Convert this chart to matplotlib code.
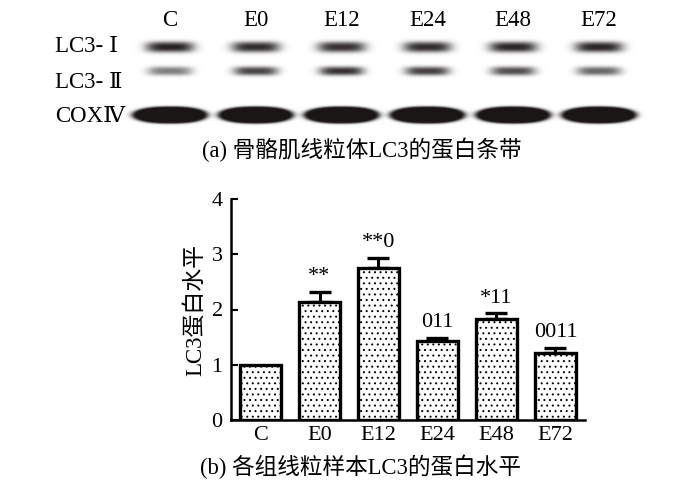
import numpy as np
import matplotlib
matplotlib.use('Agg')
import matplotlib.pyplot as plt
from matplotlib.colors import LinearSegmentedColormap

# ---------------- data ----------------
groups = ['C', 'E0', 'E12', 'E24', 'E48', 'E72']
lc3_level = [1.00, 2.14, 2.76, 1.43, 1.83, 1.22]
lc3_err = [0.00, 0.18, 0.18, 0.06, 0.10, 0.09]
sig_labels = ['', '**', '**0', '011', '*11', '0011']
band_rows = ['LC3- Ⅰ', 'LC3- Ⅱ', 'COXⅣ']
band_lc3_1 = [0.95, 0.90, 0.88, 0.90, 0.93, 0.93]
band_lc3_2 = [0.55, 0.80, 0.88, 0.82, 0.76, 0.65]
band_cox = [1.00, 1.00, 1.00, 1.00, 1.00, 1.00]
caption_a = '(a) 骨骼肌线粒体LC3的蛋白条带'
caption_b = '(b) 各组线粒样本LC3的蛋白水平'
ylabel = 'LC3蛋白水平'

plt.rcParams['font.family'] = ['Liberation Serif', 'DejaVu Serif', 'Noto Sans CJK SC']
plt.rcParams['hatch.linewidth'] = 0.7
plt.rcParams['hatch.color'] = 'black'

W, H = 700, 492
fig = plt.figure(figsize=(W / 100, H / 100), dpi=100)

# ---------------- blot panel ----------------
lane0_px, lane_step = 170.0, 85.8
blot_h = 140
axb = fig.add_axes([0, 1 - blot_h / H, 1, blot_h / H])
u_left = -lane0_px / lane_step
u_right = (W - lane0_px) / lane_step
axb.set_xlim(u_left, u_right)
axb.set_ylim(blot_h, 0)
axb.axis('off')

xs = np.arange(0, W, 0.5) + 0.25
ys = np.arange(0, blot_h, 0.5) + 0.25
XX, YY = np.meshgrid(xs, ys)
img = np.zeros_like(XX)

def soft_band(cx, cy, a, b, inten, p):
    r = (np.abs(XX - cx) / a) ** p + (np.abs(YY - cy) / b) ** 2.6
    return inten * np.exp(-1.4 * r)

def hard_band(cx, cy, a, b, inten, p):
    r = (np.abs(XX - cx) / a) ** p + (np.abs(YY - cy) / b) ** 2
    return np.clip(inten * 1.25 / (1 + np.exp((r - 1) * 7)), 0, 1)

for i in range(len(groups)):
    cx = lane0_px + i * lane_step
    img += soft_band(cx, 47, 26, 6.0, band_lc3_1[i], 4)
    img += soft_band(cx, 71, 24, 5.0, band_lc3_2[i], 4)
    img += hard_band(cx, 115, 37.5, 8.4, band_cox[i], 2.4)
img = np.clip(img, 0, 1)

cmap = LinearSegmentedColormap.from_list('blot', ['#ffffff', '#1b1616'])
axb.imshow(img, cmap=cmap, vmin=0, vmax=1, aspect='auto', interpolation='bilinear',
           extent=[u_left, u_right, blot_h, 0])

for i, g in enumerate(groups):
    axb.text(i, 21, g, ha='center', va='center', fontsize=16.5)
row_y = [47, 82, 116]
for lab, yy in zip(band_rows, row_y):
    axb.text((55 - lane0_px) / lane_step, yy, lab, ha='left', va='center', fontsize=16.5)

fig.text(362 / W, 1 - 150 / H, caption_a, ha='center', va='center', fontsize=16.3)

# ---------------- bar panel ----------------
ax = fig.add_axes([231 / W, 72 / H, 354 / W, 221 / H])
x = np.arange(len(groups))
ax.bar(x, lc3_level, width=0.7, color='white', edgecolor='black', linewidth=2.4,
       hatch='...', zorder=3)
err = np.array(lc3_err)
mask = err > 0
ax.errorbar(x[mask], np.array(lc3_level)[mask],
            yerr=[np.zeros(mask.sum()), err[mask]], fmt='none', ecolor='black',
            elinewidth=2.2, capsize=8, capthick=2.4, zorder=2)
for i in range(len(groups)):
    if sig_labels[i]:
        ax.text(x[i], lc3_level[i] + lc3_err[i] + 0.27, sig_labels[i],
                ha='center', va='center', fontsize=16)

ax.set_xlim(-0.5, 5.5)
ax.set_ylim(0, 4)
ax.set_yticks([0, 1, 2, 3, 4])
ax.set_xticks(x)
ax.set_xticklabels(groups)
ax.tick_params(axis='y', direction='in', length=5, width=1.5, labelsize=16, pad=6)
ax.tick_params(axis='x', length=0, labelsize=16, pad=4)
for s in ['top', 'right']:
    ax.spines[s].set_visible(False)
for s in ['left', 'bottom']:
    ax.spines[s].set_linewidth(1.8)
ax.set_ylabel(ylabel, fontsize=16.5, labelpad=4)

fig.text(361 / W, 1 - 467 / H, caption_b, ha='center', va='center', fontsize=16.3)

fig.savefig('out.png', dpi=100)
